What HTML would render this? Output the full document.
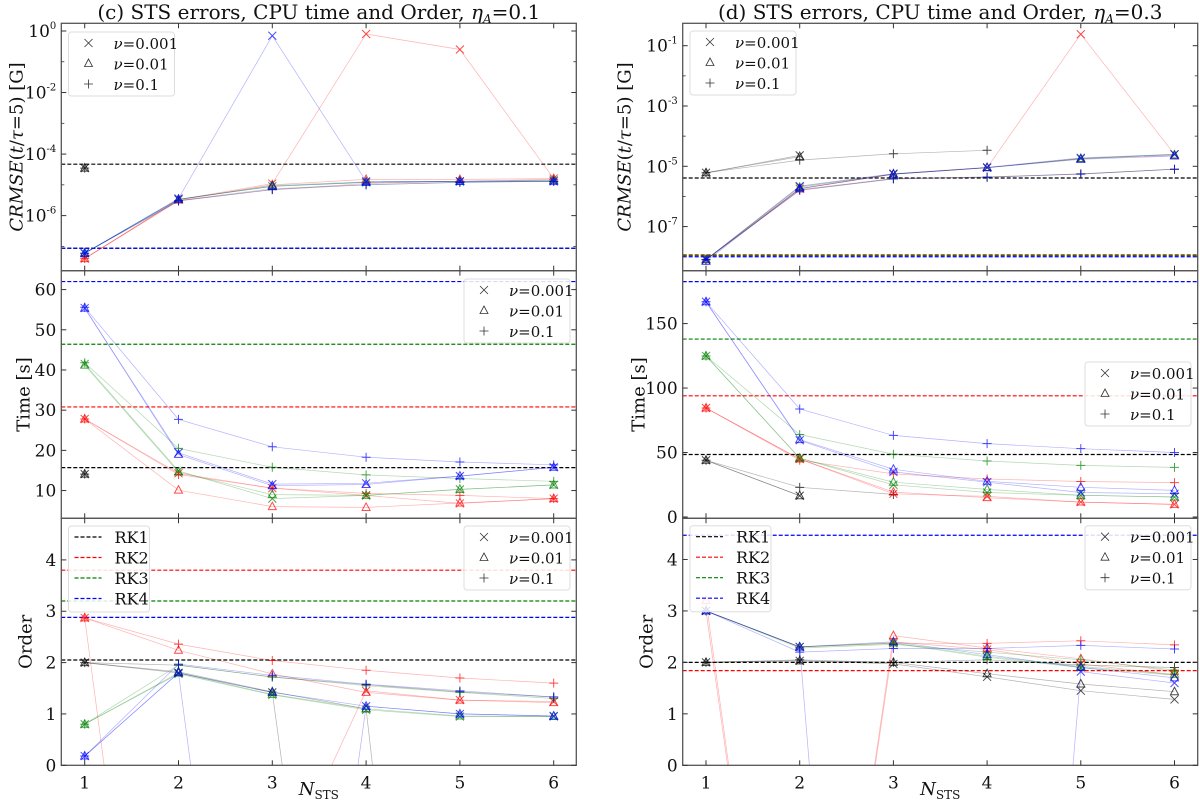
<!DOCTYPE html>
<html><head><meta charset="utf-8"><style>
html,body{margin:0;padding:0;background:#fff;overflow:hidden;}
svg{display:block;font-family:"DejaVu Serif","Liberation Serif",serif;}
</style></head><body>
<svg id="fig" width="1200" height="808" viewBox="0 0 1200 808" xmlns="http://www.w3.org/2000/svg"></svg>
<script>
const xCats=[1,2,3,4,5,6];
const nuLabels=["0.001","0.01","0.1"];
const rkLabels=["RK1","RK2","RK3","RK4"];
// rows: nu=0.001, nu=0.01, nu=0.1
const cErrRK1=[[3.5e-5],[3.5e-5],[3.5e-5]];
const cErrRK2=[[4e-8,3.3e-6,1.1e-5,0.8,0.25,1.6e-5],[4e-8,3.2e-6,1.0e-5,1.5e-5,1.5e-5,1.6e-5],[4e-8,3.0e-6,7e-6,1.1e-5,1.3e-5,1.5e-5]];
const cErrRK3=[[6e-8,3.4e-6,9e-6,1.2e-5,1.3e-5,1.4e-5],[6e-8,3.4e-6,9.5e-6,1.25e-5,1.3e-5,1.4e-5],[6e-8,3.1e-6,7.5e-6,1.0e-5,1.2e-5,1.3e-5]];
const cErrRK4=[[6e-8,3.6e-6,0.7,1.3e-5,1.3e-5,1.3e-5],[6e-8,3.4e-6,9e-6,1.2e-5,1.3e-5,1.3e-5],[6e-8,3.0e-6,7e-6,1.0e-5,1.2e-5,1.3e-5]];
const cErrRef=[4.7e-5,8.7e-8,8.7e-8,8.7e-8];
const dErrRK1=[[6.1e-6,2.3e-5],[6.1e-6,2.1e-5],[6.1e-6,1.6e-5,2.6e-5,3.4e-5]];
const dErrRK2=[[8e-9,1.8e-6,5.5e-6,9e-6,0.24,2.5e-5],[8e-9,1.8e-6,5.5e-6,9e-6,1.8e-5,2.3e-5],[8e-9,1.6e-6,3.9e-6,4.4e-6,5.6e-6,8e-6]];
const dErrRK3=[[8e-9,2.1e-6,5.5e-6,9e-6,1.8e-5,2.5e-5],[8e-9,2.0e-6,5.5e-6,9e-6,1.8e-5,2.4e-5],[8e-9,1.7e-6,3.9e-6,4.4e-6,5.6e-6,8e-6]];
const dErrRK4=[[8e-9,2.2e-6,5.7e-6,9.2e-6,1.9e-5,2.5e-5],[7e-9,1.8e-6,5.5e-6,9e-6,1.7e-5,2.2e-5],[8e-9,1.6e-6,3.8e-6,4.3e-6,5.5e-6,8e-6]];
const dErrRef=[4.1e-6,1.15e-8,1.1e-8,1.0e-8];
const cTimeRK1=[[14.1],[14.1],[14.1]];
const cTimeRK2=[[27.8,14.3,10.6,8.8,6.8,8.0],[27.8,10.1,6.0,5.8,6.9,8.0],[27.8,14.0,10.6,9.3,8.8,8.0]];
const cTimeRK3=[[41.5,14.9,8.0,8.8,10.3,11.4],[41.2,14.6,9.0,8.8,10.3,11.4],[41.8,20.5,15.8,13.9,13.0,12.3]];
const cTimeRK4=[[55.4,19.4,11.6,11.8,13.6,15.8],[55.4,19.0,11.2,11.5,13.6,15.8],[55.6,27.7,20.9,18.3,17.1,16.4]];
const cTimeRef=[15.7,30.8,46.4,62];
const dTimeRK1=[[44,16.5],[44,16.5],[44,23,17.5]];
const dTimeRK2=[[84.5,45,18,16,11.6,9.8],[84.5,45,19.3,15,11.6,9.8],[84.5,44,33.4,29.5,27.5,26.7]];
const dTimeRK3=[[124.9,45.6,25,19,16.8,15.5],[124.9,45.6,27,21.4,16.8,15.5],[124.9,64,48.7,43.4,40,38.5]];
const dTimeRK4=[[166.9,59.5,35,27,19,18],[166.9,60,37,27.7,23,20.6],[166.9,83.8,63.3,56.9,53,50]];
const dTimeRef=[48.5,94,138,182.5];
const cOrdRK1=[[2.0,1.8,1.42,-12],[2.0,1.82,1.43,1.1,-15],[2.0,1.95,1.72,1.57,1.43,1.33]];
const cOrdRK2=[[2.87,-11,-2.5,1.45,1.27,1.24],[2.87,2.24,1.78,1.42,1.27,1.22],[2.87,2.36,2.04,1.85,1.7,1.6]];
const cOrdRK3=[[0.8,1.78,1.37,1.08,0.95,0.95],[0.8,1.8,1.38,1.1,0.96,0.95],[0.8,1.95,1.72,1.55,1.42,1.3]];
const cOrdRK4=[[0.18,1.8,-12,1.15,1.0,0.96],[0.18,1.8,1.42,1.15,1.0,0.96],[0.18,1.97,1.75,1.58,1.45,1.33]];
const cOrdRef=[2.05,3.8,3.2,2.88];
const dOrdRK1=[[2.0,2.03,1.97,1.72,1.45,1.28],[2.0,2.03,2.0,1.78,1.58,1.43],[2.0,2.05,2.0,2.05,1.95,1.9]];
const dOrdRK2=[[3.0,-10,2.4,2.25,1.97,1.75],[3.2,-10,2.52,2.28,2.07,1.82],[3.0,2.3,2.37,2.37,2.42,2.34]];
const dOrdRK3=[[3.0,2.3,2.37,2.1,1.9,1.75],[3.0,2.3,2.38,2.12,1.92,1.77],[3.0,2.28,2.35,2.2,2.05,1.85]];
const dOrdRK4=[[3.0,2.3,-20,-20,1.82,1.6],[3.0,2.3,2.4,2.15,1.9,1.7],[3.0,2.2,2.27,2.27,2.33,2.26]];
const dOrdRef=[2.0,1.84,5.5,4.47];

const colors=["#000000","#ff0000","#008000","#0000ff"];
const NS="http://www.w3.org/2000/svg";
const svg=document.getElementById("fig");
function mk(tag,attrs,parent){const e=document.createElementNS(NS,tag);for(const k in attrs)e.setAttribute(k,attrs[k]);(parent||svg).appendChild(e);return e;}

const cols=[{x0:61.3,x1:576.3,p:84.7,u:93.8,title:"(c) STS errors, CPU time and Order, ",eta:"0.1",tag:"c"},
            {x0:682.7,x1:1197.7,p:706,u:93.7,title:"(d) STS errors, CPU time and Order, ",eta:"0.3",tag:"d"}];
const rows=[{y0:23.3,y1:270.7},{y0:270.7,y1:518.3},{y0:518.3,y1:765.3}];

const panels=[
 {c:0,r:0,log:true,lo:-7.79,hi:0.25,data:[cErrRK1,cErrRK2,cErrRK3,cErrRK4],ref:cErrRef,ticks:[0,-2,-4,-6],minor:[-1,-3,-5,-7],name:"c-error"},
 {c:0,r:1,log:false,lo:3.1,hi:64.7,data:[cTimeRK1,cTimeRK2,cTimeRK3,cTimeRK4],ref:cTimeRef,ticks:[10,20,30,40,50,60],name:"c-time"},
 {c:0,r:2,log:false,lo:0,hi:4.81,data:[cOrdRK1,cOrdRK2,cOrdRK3,cOrdRK4],ref:cOrdRef,ticks:[0,1,2,3,4],name:"c-order"},
 {c:1,r:0,log:true,lo:-8.463,hi:-0.257,data:[dErrRK1,dErrRK2,dErrRK3,dErrRK4],ref:dErrRef,ticks:[-1,-3,-5,-7],minor:[-2,-4,-6,-8],name:"d-error"},
 {c:1,r:1,log:false,lo:-1,hi:191,data:[dTimeRK1,dTimeRK2,dTimeRK3,dTimeRK4],ref:dTimeRef,ticks:[0,50,100,150],name:"d-time"},
 {c:1,r:2,log:false,lo:0,hi:4.8,data:[dOrdRK1,dOrdRK2,dOrdRK3,dOrdRK4],ref:dOrdRef,ticks:[0,1,2,3,4],name:"d-order"}
];

function marker(g,type,x,y,color){
  const s=4;let e;
  if(type===0){e=mk("path",{d:`M${x-s} ${y-s}L${x+s} ${y+s}M${x-s} ${y+s}L${x+s} ${y-s}`,stroke:color,"stroke-width":1,fill:"none"},g);}
  else if(type===1){e=mk("path",{d:`M${x} ${y-s-0.5}L${x+s} ${y+s-1}L${x-s} ${y+s-1}Z`,stroke:color,"stroke-width":1,fill:"none"},g);}
  else {e=mk("path",{d:`M${x-s-0.5} ${y}L${x+s+0.5} ${y}M${x} ${y-s-0.5}L${x} ${y+s+0.5}`,stroke:color,"stroke-width":1,fill:"none"},g);}
  return e;
}

panels.forEach((P,pi)=>{
  const C=cols[P.c],R=rows[P.r];
  const X=v=>C.p+(v-1)*C.u;
  const Y=v=>{const t=P.log?Math.log10(v):v;return R.y1-(t-P.lo)/(P.hi-P.lo)*(R.y1-R.y0);};
  const g=mk("g",{});
  
  
  const cid="clip"+pi;
  const cp=mk("clipPath",{id:cid},g);mk("rect",{x:C.x0,y:R.y0,width:C.x1-C.x0,height:R.y1-R.y0},cp);
  const plot=mk("g",{"clip-path":`url(#${cid})`},g);
  P.ref.forEach((v,k)=>{
    const y=Y(v);
    const l=mk("line",{x1:C.x0,x2:C.x1,y1:y,y2:y,stroke:colors[k],"stroke-width":1.2,"stroke-dasharray":"4 2"},plot);
    
    
  });
  P.data.forEach((rowsArr,k)=>{
    rowsArr.forEach((vals,m)=>{
      let d="";
      vals.forEach((v,i)=>{if(v==null)return;const x=X(xCats[i]);const y=Y(v);d+=(d?"L":"M")+x.toFixed(1)+" "+y.toFixed(1);});
      const ln=mk("path",{d:d,stroke:colors[k],"stroke-width":0.7,fill:"none","stroke-opacity":0.3},plot);
      
      
      vals.forEach((v,i)=>{if(v==null)return;const y=Y(v);if(y<R.y0||y>R.y1)return;
        const mkr=marker(plot,m,X(xCats[i]),y,colors[k]);
        mkr.setAttribute('stroke-opacity','0.7');
        
        
      });
    });
  });
  const fr=mk("rect",{x:C.x0,y:R.y0,width:C.x1-C.x0,height:R.y1-R.y0,fill:"none",stroke:"#555","stroke-width":1.3},g);
  
  
  xCats.forEach(v=>{const x=X(v);
    mk("line",{x1:x,x2:x,y1:R.y1,y2:R.y1-5,stroke:"#333","stroke-width":1},g);
    mk("line",{x1:x,x2:x,y1:R.y0,y2:R.y0+5,stroke:"#333","stroke-width":1},g);
    if(P.r===2){const t=mk("text",{x:x,y:R.y1+23,"text-anchor":"middle","font-size":17,fill:"#111"},g);t.textContent=v;
      }
  });
  P.ticks.forEach(v=>{const y=P.log?R.y1-(v-P.lo)/(P.hi-P.lo)*(R.y1-R.y0):Y(v);
    mk("line",{x1:C.x0,x2:C.x0+5,y1:y,y2:y,stroke:"#333","stroke-width":1},g);
    mk("line",{x1:C.x1,x2:C.x1-5,y1:y,y2:y,stroke:"#333","stroke-width":1},g);
    const t=mk("text",{x:C.x0-5,y:y+6,"text-anchor":"end","font-size":17,fill:"#111"},g);
    
    if(P.log){const a=mk("tspan",{},t);a.textContent="10";const b=mk("tspan",{dy:-8,"font-size":10},t);b.textContent=String(v);}
    else t.textContent=v;
  });
  (P.minor||[]).forEach(v=>{const y=R.y1-(v-P.lo)/(P.hi-P.lo)*(R.y1-R.y0);if(y<R.y0||y>R.y1)return;
    mk("line",{x1:C.x0,x2:C.x0+3,y1:y,y2:y,stroke:"#333","stroke-width":0.8},g);
    mk("line",{x1:C.x1,x2:C.x1-3,y1:y,y2:y,stroke:"#333","stroke-width":0.8},g);});
});

function nuLegend(x0,y0,name){
  const g=mk("g",{});
  
  
  mk("rect",{x:x0,y:y0,width:106,height:64,rx:3,fill:"#fff","fill-opacity":0.85,stroke:"#ddd","stroke-width":1},g);
  nuLabels.forEach((l,i)=>{const y=y0+11+i*20.5;
    const m=marker(g,i,x0+20,y,"#333");m.setAttribute('stroke-width','0.8');
    
    const t=mk("text",{x:x0+45,y:y+6,"font-size":15,fill:"#111"},g);
    
    const a=mk("tspan",{"font-style":"italic"},t);a.textContent="ν";const b=mk("tspan",{},t);b.textContent="="+l;
  });
}
function rkLegend(x0,y0,w,name){
  const g=mk("g",{});
  
  
  mk("rect",{x:x0,y:y0,width:w,height:86,rx:3,fill:"#fff","fill-opacity":0.85,stroke:"#ddd","stroke-width":1},g);
  rkLabels.forEach((l,i)=>{const y=y0+11+i*20.5;
    mk("line",{x1:x0+6,x2:x0+33,y1:y,y2:y,stroke:colors[i],"stroke-width":1.2,"stroke-dasharray":"4 2"},g);
    const t=mk("text",{x:x0+46,y:y+6,"font-size":16,fill:"#111"},g);t.textContent=l;
    
  });
}
nuLegend(68.5,32,"c-error-legend");
nuLegend(464,279,"c-time-legend");
nuLegend(464,526,"c-order-nu-legend");
rkLegend(68.5,526,81,"c-order-rk-legend");
nuLegend(690,31,"d-error-legend");
nuLegend(1085,362,"d-time-legend");
nuLegend(1085,525.7,"d-order-nu-legend");
rkLegend(690,525.7,81,"d-order-rk-legend");

cols.forEach(C=>{
  const cx=(C.x0+C.x1)/2;
  const t=mk("text",{x:cx,y:19,"text-anchor":"middle","font-size":20,fill:"#111"});
  
  const a=mk("tspan",{},t);a.textContent=C.title;
  const b=mk("tspan",{"font-style":"italic"},t);b.textContent="η";
  const c=mk("tspan",{"font-style":"italic","font-size":12,dy:4},t);c.textContent="A";
  const d=mk("tspan",{dy:-4},t);d.textContent="="+C.eta;
  const xl=mk("text",{x:cx,y:795,"text-anchor":"middle","font-size":18,fill:"#111"});
  
  const n=mk("tspan",{"font-style":"italic"},xl);n.textContent="N";
  const s=mk("tspan",{"font-size":12,dy:4},xl);s.textContent="STS";
  [["CRMSE",147,true],["Time [s]",394.5,false],["Order",641.8,false]].forEach((L,i)=>{
    let xx;
    if(C.tag==="c") xx=i===0?C.x0-39:(i===1?C.x0-32:C.x0-30);
    else xx=i===0?C.x0-52:(i===1?C.x0-38:C.x0-30);
    const yt=mk("text",{x:xx,y:L[1],"text-anchor":"middle","font-size":18,fill:"#111",transform:`rotate(-90 ${xx} ${L[1]})`});
    
    if(L[2]){const p1=mk("tspan",{"font-style":"italic"},yt);p1.textContent="CRMSE";const p2=mk("tspan",{},yt);p2.textContent="(";
      const p3=mk("tspan",{"font-style":"italic"},yt);p3.textContent="t";const p4=mk("tspan",{},yt);p4.textContent="/";
      const p5=mk("tspan",{"font-style":"italic"},yt);p5.textContent="τ";const p6=mk("tspan",{},yt);p6.textContent="=5) [G]";}
    else yt.textContent=L[0];
  });
});
</script>
</body></html>
